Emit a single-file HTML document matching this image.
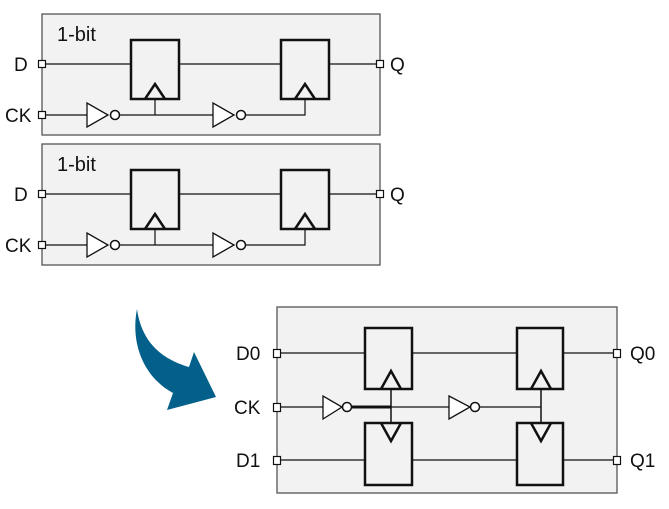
<!DOCTYPE html>
<html><head><meta charset="utf-8"><style>
html,body{margin:0;padding:0;background:#fff;}
svg{display:block;}
text{font-family:"Liberation Sans",Arial,sans-serif;font-size:19px;fill:#111;}
</style></head><body>
<svg width="669" height="509" viewBox="0 0 669 509" xmlns="http://www.w3.org/2000/svg">
<defs>
<g id="bit">
  <rect x="42" y="14" width="338" height="121" fill="#f2f2f2" stroke="#555" stroke-width="1.3"/>
  <text x="57" y="41" style="font-size:20px">1-bit</text>
  <line x1="42" y1="64" x2="131" y2="64" stroke="#111" stroke-width="1.2"/>
  <line x1="179" y1="64" x2="281" y2="64" stroke="#111" stroke-width="1.2"/>
  <line x1="329" y1="64" x2="380" y2="64" stroke="#111" stroke-width="1.2"/>
  <rect x="131" y="40" width="48" height="59" fill="#f2f2f2" stroke="#111" stroke-width="2.5"/>
  <rect x="281" y="40" width="48" height="59" fill="#f2f2f2" stroke="#111" stroke-width="2.5"/>
  <polyline points="145,99 155,84 165,99" fill="none" stroke="#111" stroke-width="2.5"/>
  <polyline points="295,99 305,84 315,99" fill="none" stroke="#111" stroke-width="2.5"/>
  <line x1="42" y1="115" x2="87" y2="115" stroke="#111" stroke-width="1.2"/>
  <polygon points="87,103 87,127 108,115" fill="#fff" stroke="#111" stroke-width="1.3"/>
  <circle cx="115" cy="115" r="4.5" fill="#fff" stroke="#111" stroke-width="1.5"/>
  <line x1="120" y1="115" x2="213" y2="115" stroke="#111" stroke-width="1.2"/>
  <line x1="155" y1="99" x2="155" y2="115" stroke="#111" stroke-width="1.2"/>
  <polygon points="213,103 213,127 234,115" fill="#fff" stroke="#111" stroke-width="1.3"/>
  <circle cx="241" cy="115" r="4.5" fill="#fff" stroke="#111" stroke-width="1.5"/>
  <polyline points="246,115 305,115 305,99" fill="none" stroke="#111" stroke-width="1.2"/>
  <rect x="38.5" y="60.5" width="7" height="7" fill="#fff" stroke="#111" stroke-width="1.2"/>
  <rect x="38.5" y="111.5" width="7" height="7" fill="#fff" stroke="#111" stroke-width="1.2"/>
  <rect x="376.5" y="60.5" width="7" height="7" fill="#fff" stroke="#111" stroke-width="1.2"/>
  <text x="14" y="71">D</text>
  <text x="5" y="122">CK</text>
  <text x="390" y="71">Q</text>
</g>
</defs>
<use href="#bit"/>
<use href="#bit" transform="translate(0,130)"/>

<path d="M137,309 C130,345 145,378 173,393 L167,410 L216,397 L194,352 L189,367 C165,360 142,345 137,309 Z" fill="#03608a"/>

<rect x="277" y="307" width="340" height="186" fill="#f2f2f2" stroke="#555" stroke-width="1.3"/>
<g stroke="#111" stroke-width="1.2" fill="none">
  <line x1="277" y1="353" x2="365" y2="353"/>
  <line x1="412" y1="353" x2="517" y2="353"/>
  <line x1="563" y1="353" x2="617" y2="353"/>
  <line x1="277" y1="460" x2="365" y2="460"/>
  <line x1="412" y1="460" x2="517" y2="460"/>
  <line x1="563" y1="460" x2="617" y2="460"/>
  <line x1="277" y1="407" x2="323" y2="407"/>
  <line x1="391" y1="407" x2="449" y2="407"/>
  <line x1="480" y1="407" x2="541" y2="407"/>
</g>
<line x1="352" y1="407" x2="391" y2="407" stroke="#111" stroke-width="3"/>
<line x1="391" y1="389" x2="391" y2="423" stroke="#111" stroke-width="1.5"/>
<line x1="541" y1="389" x2="541" y2="423" stroke="#111" stroke-width="1.5"/>
<g fill="#f2f2f2" stroke="#111" stroke-width="2.5">
  <rect x="365" y="328" width="47" height="61"/>
  <rect x="517" y="328" width="46" height="61"/>
  <rect x="365" y="423" width="47" height="62"/>
  <rect x="517" y="423" width="46" height="62"/>
</g>
<g fill="none" stroke="#111" stroke-width="2.5">
  <polyline points="381,389 391,371 401,389"/>
  <polyline points="531,389 541,371 551,389"/>
  <polyline points="381,423 391,441 401,423"/>
  <polyline points="531,423 541,441 551,423"/>
</g>
<polygon points="323,396 323,419 342,407" fill="#fff" stroke="#111" stroke-width="1.3"/>
<circle cx="347" cy="407" r="4.5" fill="#fff" stroke="#111" stroke-width="1.5"/>
<polygon points="449,396 449,419 470,407" fill="#fff" stroke="#111" stroke-width="1.3"/>
<circle cx="475" cy="407" r="4.5" fill="#fff" stroke="#111" stroke-width="1.5"/>
<g fill="#fff" stroke="#111" stroke-width="1.2">
  <rect x="273.5" y="349.5" width="7" height="8"/>
  <rect x="273.5" y="403.5" width="7" height="8"/>
  <rect x="273.5" y="456.5" width="7" height="8"/>
  <rect x="613.5" y="349.5" width="7" height="8"/>
  <rect x="613.5" y="456.5" width="7" height="8"/>
</g>
<text x="236" y="360">D0</text>
<text x="234" y="414">CK</text>
<text x="236" y="467">D1</text>
<text x="630" y="360">Q0</text>
<text x="630" y="467">Q1</text>
</svg>
</body></html>
